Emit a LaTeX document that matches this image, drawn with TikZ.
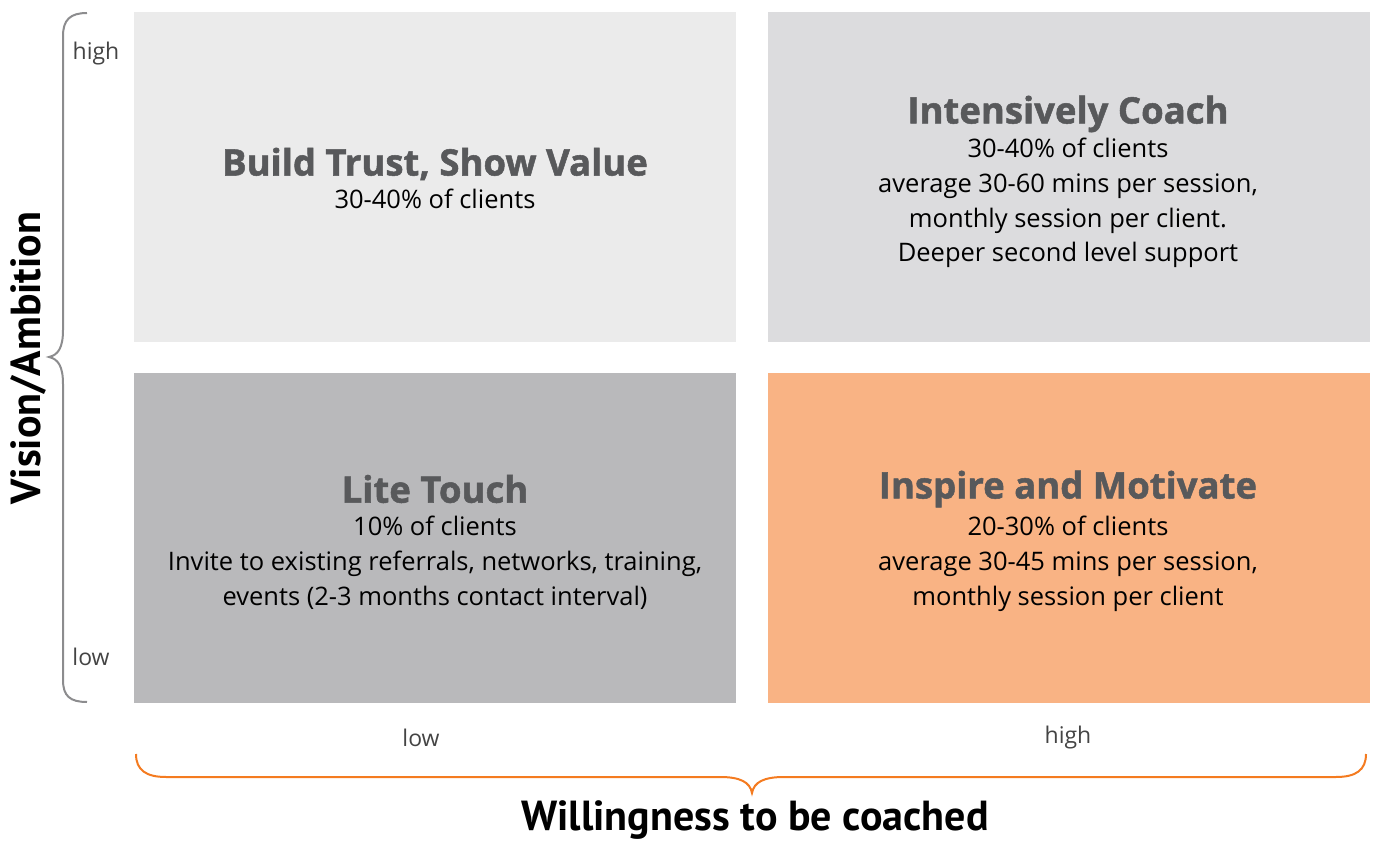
\documentclass[tikz,border=0pt]{standalone}
\usepackage{fontspec}
\setmainfont{Open Sans}
\newfontfamily\axfont{PT Sans}
\newfontfamily\ttlfont[FakeBold=1.4]{Open Sans}
\definecolor{tl}{HTML}{EBEBEB}
\definecolor{tr}{HTML}{DCDCDE}
\definecolor{bl}{HTML}{B9B9BB}
\definecolor{br}{HTML}{F9B384}
\definecolor{ttl}{HTML}{58595B}
\definecolor{brgray}{HTML}{8C8C8E}
\definecolor{brorange}{HTML}{F47B20}
\definecolor{lbl}{HTML}{444444}
\begin{document}
\begin{tikzpicture}[x=1pt,y=-1pt,
  quad/.style={minimum width=602pt,minimum height=330pt,anchor=north west,inner sep=0pt,draw=none},
  ttlstyle/.style={font=\fontsize{36.5}{40}\ttlfont\bfseries,text=ttl,inner sep=0pt},
  bodystyle/.style={font=\fontsize{25.5}{34.7}\selectfont,text=black,align=center,inner sep=0pt,anchor=north},
  axlbl/.style={font=\fontsize{23}{26}\selectfont,text=lbl,inner sep=0pt},
  axtitle/.style={font=\fontsize{42}{46}\axfont\bfseries,text=black,inner sep=0pt}]
\useasboundingbox (0,0) rectangle (1377,842);
\node[quad,fill=tl] (qtl) at (134,12) {};
\node[quad,fill=tr] (qtr) at (768,12) {};
\node[quad,fill=bl] (qbl) at (134,373) {};
\node[quad,fill=br] (qbr) at (768,373) {};
% top left
\node[ttlstyle] (t1) at (435,164) {Build Trust, Show Value};
\node[bodystyle] (b1) at (435,189) {30-40\% of clients};
% top right
\node[ttlstyle] (t2) at (1068,114) {Intensively Coach};
\node[bodystyle] (b2) at (1068,138) {30-40\% of clients\\average 30-60 mins per session,\\monthly session per client.\\Deeper second level support};
% bottom left
\node[ttlstyle] (t3) at (435,489) {Lite Touch};
\node[bodystyle] (b3) at (435,516) {10\% of clients\\Invite to existing referrals, networks, training,\\events (2-3 months contact interval)};
% bottom right
\node[ttlstyle] (t4) at (1068,489) {Inspire and Motivate};
\node[bodystyle] (b4) at (1068,516) {20-30\% of clients\\average 30-45 mins per session,\\monthly session per client};
% axis labels
\node[axlbl] (yh) at (96,54) {high};
\node[axlbl] (yl) at (91,657) {low};
\node[axlbl] (xl) at (421,738) {low};
\node[axlbl] (xh) at (1068,738) {high};
\node[axtitle,rotate=90] (ytitle) at (28,358) {Vision/Ambition};
\node[axtitle] (xtitle) at (755,820) {Willingness to be coached};
% braces
\coordinate (lbt) at (87,13);
\coordinate (lbb) at (87,702);
\coordinate (lbtip) at (49,357);
\draw[brgray,line width=2pt] (lbt) .. controls (70,13) and (63,20) .. (63,36)
  -- (63,330) .. controls (63,348) and (58,355) .. (lbtip)
  .. controls (58,359) and (63,366) .. (63,384)
  -- (63,680) .. controls (63,696) and (70,702) .. (lbb);
\coordinate (bbl) at (136,754);
\coordinate (bbr) at (1366,754);
\coordinate (bbtip) at (752,793);
\draw[brorange,line width=2pt] (bbl) .. controls (136,770) and (146,777) .. (166,777)
  -- (720,777) .. controls (740,777) and (750,782) .. (bbtip)
  .. controls (754,782) and (764,777) .. (784,777)
  -- (1336,777) .. controls (1356,777) and (1366,770) .. (bbr);
\end{tikzpicture}
\end{document}
